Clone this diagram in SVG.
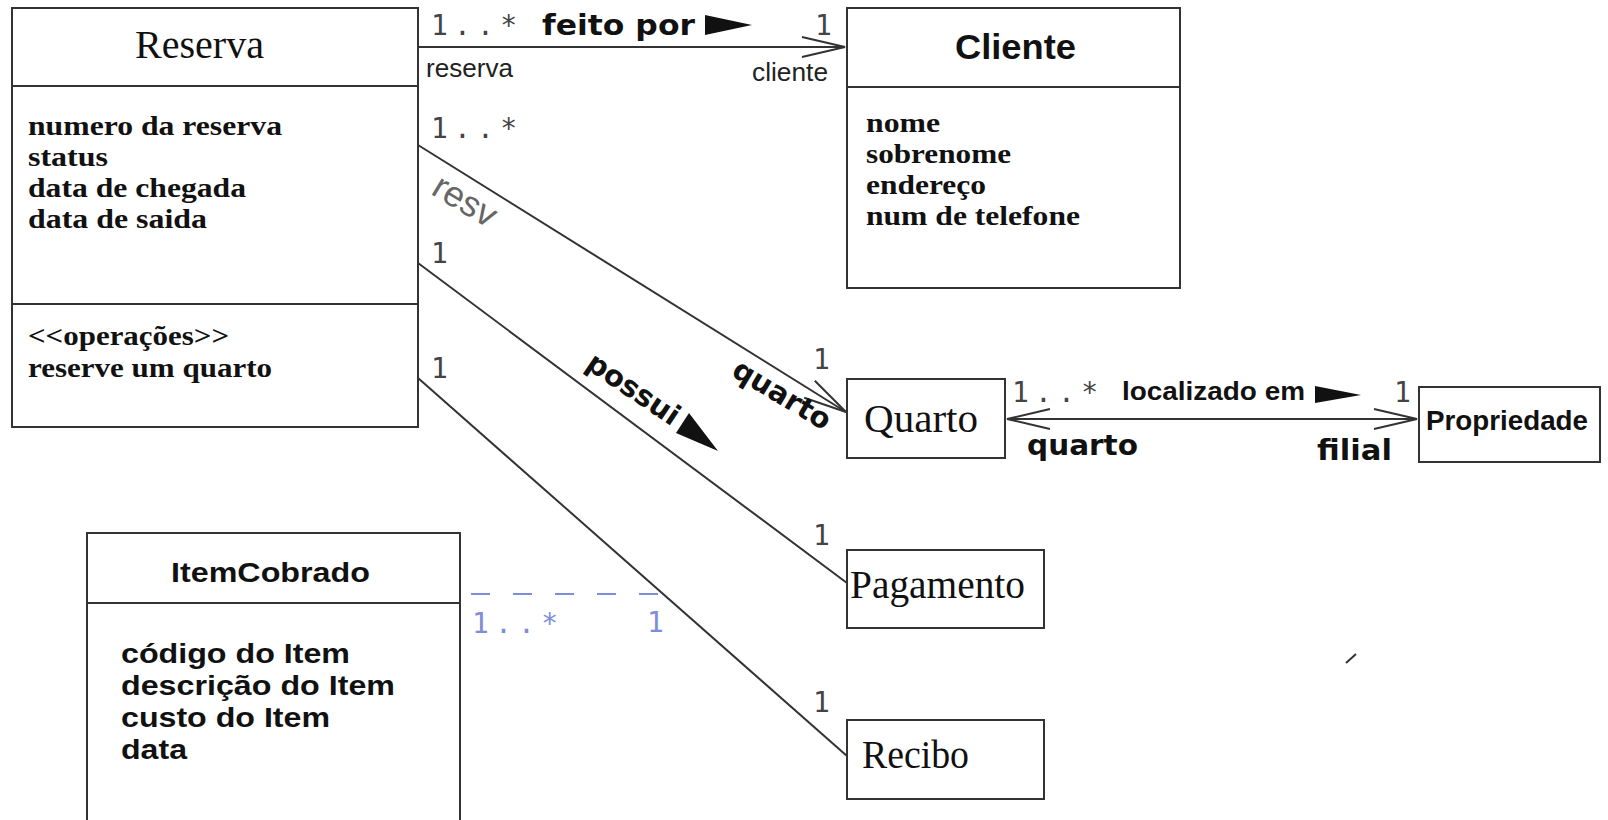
<svg xmlns="http://www.w3.org/2000/svg" width="1608" height="820" viewBox="0 0 1608 820">
  <defs>
    <style>
      .box { fill: #fff; stroke: #333; stroke-width: 2; }
      .ln { fill: none; stroke: #333; stroke-width: 2; }
      .dash { fill: none; stroke: #7d8ddb; stroke-width: 2; stroke-dasharray: 19 23; }
      .title-serif { font-family: "Liberation Serif", "Times New Roman", serif; font-size: 39px; fill: #111; }
      .attr-serif { font-family: "Liberation Serif", "Times New Roman", serif; font-weight: bold; font-size: 28px; fill: #111; }
      .title-sans { font-family: "Liberation Sans", Arial, sans-serif; font-weight: bold; font-size: 35px; fill: #111; }
      .attr-sans { font-family: "Liberation Sans", Arial, sans-serif; font-weight: bold; font-size: 28px; fill: #111; }
      .mult { font-family: "DejaVu Sans Mono", "Liberation Mono", monospace; font-size: 28px; fill: #444; }
      .mult-blue { font-family: "DejaVu Sans Mono", "Liberation Mono", monospace; font-size: 28px; fill: #7d8ddb; }
      .role { font-family: "Liberation Sans", Arial, sans-serif; font-size: 25px; fill: #222; }
      .lbl { font-family: "DejaVu Sans", sans-serif; font-weight: bold; font-size: 29px; fill: #111; }
      .lbl-sans { font-family: "Liberation Sans", Arial, sans-serif; font-weight: bold; font-size: 26px; fill: #111; }
      .resv { font-family: "Liberation Sans", Arial, sans-serif; font-size: 36px; fill: #666; }
    </style>
    <marker id="open" viewBox="-46 -12 48 24" refX="0" refY="0" markerWidth="48" markerHeight="24" markerUnits="userSpaceOnUse" orient="auto-start-reverse">
      <path d="M-43,-10 L0,0 L-43,10" fill="none" stroke="#333" stroke-width="2"/>
    </marker>
  </defs>

  <rect width="1608" height="820" fill="#fff"/>

  <!-- associations -->
  <g id="connectors">
    <line class="ln" x1="418" y1="47" x2="845" y2="47" marker-end="url(#open)"/>
    <line class="ln" x1="418" y1="145" x2="846" y2="412" marker-end="url(#open)"/>
    <line class="ln" x1="418" y1="263" x2="847" y2="583"/>
    <line class="ln" x1="418" y1="378" x2="847" y2="756"/>
    <line class="ln" x1="1007" y1="419" x2="1417" y2="419" marker-start="url(#open)" marker-end="url(#open)"/>
    <line class="dash" x1="471" y1="594" x2="663" y2="594"/>

    <!-- Reserva to Cliente -->
    <text class="mult" x="431" y="35" textLength="86">1..*</text>
    <text class="lbl" x="542" y="35" textLength="153" lengthAdjust="spacingAndGlyphs">feito por</text>
    <polygon points="705,15 752,25 705,35" fill="#111"/>
    <text class="mult" x="815" y="35">1</text>
    <text class="role" x="426" y="77" textLength="87" lengthAdjust="spacingAndGlyphs">reserva</text>
    <text class="role" x="752" y="81" textLength="76" lengthAdjust="spacingAndGlyphs">cliente</text>

    <!-- Reserva to Quarto -->
    <text class="mult" x="431" y="138" textLength="86">1..*</text>
    <text class="resv" x="459" y="211" text-anchor="middle" transform="rotate(31 459 211)">resv</text>
    <text class="lbl" x="777" y="403" text-anchor="middle" transform="rotate(31 777 403)">quarto</text>
    <text class="mult" x="813" y="369">1</text>

    <!-- Reserva to Pagamento -->
    <text class="mult" x="431" y="263">1</text>
    <text class="lbl" x="628" y="397" text-anchor="middle" font-size="27" transform="rotate(34 628 397)">possui</text>
    <polygon points="676,433 689,413 718,451" fill="#111"/>
    <text class="mult" x="813" y="545">1</text>

    <!-- Reserva to Recibo -->
    <text class="mult" x="431" y="378">1</text>
    <text class="mult" x="813" y="712">1</text>

    <!-- Quarto to Propriedade -->
    <text class="mult" x="1012" y="402" textLength="86">1..*</text>
    <text class="lbl-sans" x="1122" y="400" textLength="183" lengthAdjust="spacingAndGlyphs">localizado em</text>
    <polygon points="1315,386 1361,395 1315,403" fill="#111"/>
    <text class="mult" x="1394" y="402">1</text>
    <text class="lbl" x="1027" y="455" textLength="111" lengthAdjust="spacingAndGlyphs">quarto</text>
    <text class="lbl" x="1317" y="460" textLength="75" lengthAdjust="spacingAndGlyphs">filial</text>

    <!-- ItemCobrado to the Recibo association -->
    <text class="mult-blue" x="472" y="633" textLength="86">1..*</text>
    <text class="mult-blue" x="647" y="632">1</text>
  </g>

  <g id="reserva">
    <rect class="box" x="12" y="8" width="406" height="419"/>
    <line class="ln" x1="12" y1="86" x2="418" y2="86"/>
    <line class="ln" x1="12" y1="304" x2="418" y2="304"/>
    <text class="title-serif" x="135" y="58" textLength="129" lengthAdjust="spacingAndGlyphs">Reserva</text>
    <text class="attr-serif" x="28" y="135" textLength="254" lengthAdjust="spacingAndGlyphs">numero da reserva</text>
    <text class="attr-serif" x="28" y="166" textLength="80" lengthAdjust="spacingAndGlyphs">status</text>
    <text class="attr-serif" x="28" y="197" textLength="218" lengthAdjust="spacingAndGlyphs">data de chegada</text>
    <text class="attr-serif" x="28" y="228" textLength="179" lengthAdjust="spacingAndGlyphs">data de saida</text>
    <text class="attr-serif" x="28" y="345" font-size="26" textLength="201" lengthAdjust="spacingAndGlyphs">&lt;&lt;operações&gt;&gt;</text>
    <text class="attr-serif" x="28" y="377" textLength="244" lengthAdjust="spacingAndGlyphs">reserve um quarto</text>
  </g>

  <g id="cliente">
    <rect class="box" x="847" y="8" width="333" height="280"/>
    <line class="ln" x1="847" y1="87" x2="1180" y2="87"/>
    <text class="title-sans" x="955" y="59" textLength="121" lengthAdjust="spacingAndGlyphs">Cliente</text>
    <text class="attr-serif" x="866" y="132" textLength="74" lengthAdjust="spacingAndGlyphs">nome</text>
    <text class="attr-serif" x="866" y="163" textLength="145" lengthAdjust="spacingAndGlyphs">sobrenome</text>
    <text class="attr-serif" x="866" y="194" textLength="120" lengthAdjust="spacingAndGlyphs">endereço</text>
    <text class="attr-serif" x="866" y="225" textLength="214" lengthAdjust="spacingAndGlyphs">num de telefone</text>
  </g>

  <g id="quarto">
    <rect class="box" x="847" y="379" width="158" height="79"/>
    <text class="title-serif" x="864" y="432" textLength="114" lengthAdjust="spacingAndGlyphs">Quarto</text>
  </g>

  <g id="propriedade">
    <rect class="box" x="1419" y="387" width="181" height="75"/>
    <text class="attr-sans" x="1426" y="430" font-size="30" textLength="162" lengthAdjust="spacingAndGlyphs">Propriedade</text>
  </g>

  <g id="pagamento">
    <rect class="box" x="847" y="550" width="197" height="78"/>
    <text class="title-serif" x="850" y="598" textLength="175" lengthAdjust="spacingAndGlyphs">Pagamento</text>
  </g>

  <g id="recibo">
    <rect class="box" x="847" y="720" width="197" height="79"/>
    <text class="title-serif" x="862" y="768" textLength="107" lengthAdjust="spacingAndGlyphs">Recibo</text>
  </g>

  <g id="itemcobrado">
    <rect class="box" x="87" y="533" width="373" height="300"/>
    <line class="ln" x1="87" y1="603" x2="460" y2="603"/>
    <text class="attr-sans" x="171" y="582" font-size="30" textLength="199" lengthAdjust="spacingAndGlyphs">ItemCobrado</text>
    <text class="attr-sans" x="121" y="663" textLength="229" lengthAdjust="spacingAndGlyphs">código do Item</text>
    <text class="attr-sans" x="121" y="695" textLength="274" lengthAdjust="spacingAndGlyphs">descrição do Item</text>
    <text class="attr-sans" x="121" y="727" textLength="209" lengthAdjust="spacingAndGlyphs">custo do Item</text>
    <text class="attr-sans" x="121" y="759" textLength="66" lengthAdjust="spacingAndGlyphs">data</text>
  </g>

  <!-- stray pen stroke -->
  <line x1="1346" y1="663" x2="1356" y2="654" stroke="#333" stroke-width="2"/>
</svg>
